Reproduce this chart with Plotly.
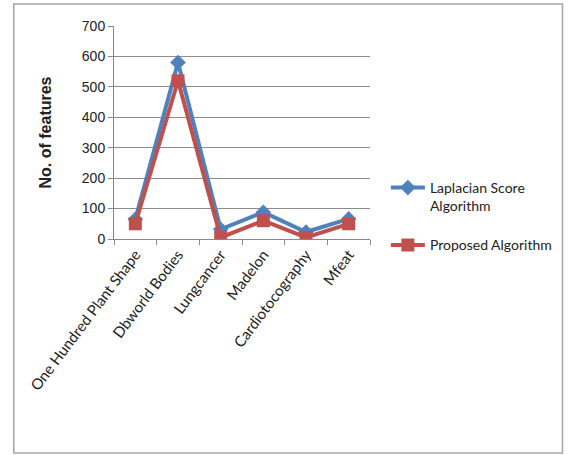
import plotly.graph_objects as go

categories = ["One Hundred Plant Shape", "Dbworld Bodies", "Lungcancer", "Madelon", "Cardiotocography", "Mfeat"]
laplacian = [65, 580, 32, 88, 23, 66]
proposed = [50, 520, 5, 60, 5, 50]
y_ticks = [0, 100, 200, 300, 400, 500, 600, 700]

W, H = 569, 455
L, R, T, B = 114, 372, 26, 239

fig = go.Figure()
fig.add_trace(go.Scatter(
    x=categories, y=laplacian, mode="lines+markers",
    name="Laplacian Score<br>Algorithm", legendgroup="lap",
    line=dict(color="#4F81BD", width=4),
    marker=dict(symbol="diamond", size=12, color="#4F81BD"),
))
fig.add_trace(go.Scatter(
    x=categories, y=proposed, mode="lines+markers",
    name="Proposed Algorithm", legendgroup="prop",
    line=dict(color="#C0504D", width=4),
    marker=dict(symbol="square", size=13, color="#C0504D"),
))

def px2x(p):
    return (p - L) / (R - L)

def px2y(p):
    return (B - p) / (B - T)

fig.add_shape(type="rect", xref="paper", yref="paper",
              x0=px2x(13), x1=px2x(566), y0=px2y(453), y1=px2y(4),
              line=dict(color="#a6a6a6", width=1.5), layer="below")

fig.update_layout(
    width=W, height=H,
    margin=dict(l=L, r=W - R, t=T, b=H - B),
    paper_bgcolor="white", plot_bgcolor="white",
    font=dict(family="Lato, Open Sans, sans-serif", size=14, color="#222"),
    showlegend=True,
    legend=dict(x=px2x(388), y=px2y(172), xanchor="left", yanchor="top",
                font=dict(size=14), tracegroupgap=18, valign="top",
                bgcolor="rgba(0,0,0,0)", itemwidth=34),
    xaxis=dict(
        type="category", tickangle=-53, tickson="boundaries",
        ticks="outside", ticklen=5, tickcolor="#888",
        showline=True, linecolor="#888", linewidth=1,
        showgrid=False, tickfont=dict(size=15), range=[-0.5, 5.5],
    ),
    yaxis=dict(
        range=[0, 700], tickvals=y_ticks, ticks="outside", ticklen=5, tickcolor="#888",
        showline=True, linecolor="#888", linewidth=1,
        showgrid=True, gridcolor="#8c8c8c", gridwidth=1,
        zeroline=False, tickfont=dict(family="Liberation Sans, Arial", size=14),
        title=dict(text="<b>No. of features</b>",
                   font=dict(family="Liberation Sans, Arial", size=16), standoff=26),
    ),
)

fig.write_html("out.html")
